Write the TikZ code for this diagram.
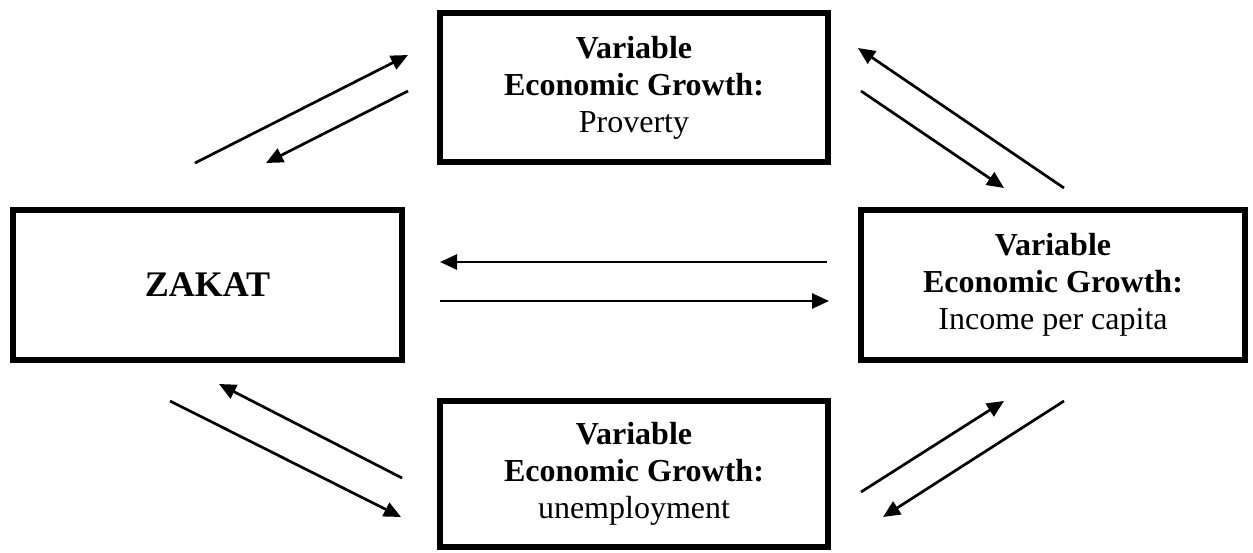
\documentclass[tikz,border=0pt]{standalone}
\usepackage{fontspec}
\setmainfont{Liberation Serif}
\usetikzlibrary{arrows.meta}
\begin{document}
\begin{tikzpicture}[x=0.5pt,y=-0.5pt,
  box/.style={draw, line width=3pt, rectangle, inner sep=0pt, align=center,
    font=\fontsize{16}{18.5}\selectfont},
  link/.style={line width=1.35pt, -{Triangle[length=8.5pt,width=7.5pt]}}]
\useasboundingbox (0,0) rectangle (1253,552);
\fill[white] (0,0) rectangle (1253,552);
% boxes
\node[box, minimum width=194pt, minimum height=74.5pt] (top) at (634,87.5)
  {\textbf{Variable}\\\textbf{Economic Growth:}\\Proverty};
\node[box, minimum width=194.5pt, minimum height=75pt,
  font=\fontsize{18}{20}\selectfont\bfseries] (zakat) at (207.5,285) {ZAKAT};
\node[box, minimum width=192pt, minimum height=75pt] (right) at (1053,285)
  {\textbf{Variable}\\\textbf{Economic Growth:}\\Income per capita};
\node[box, minimum width=194pt, minimum height=73pt] (bottom) at (634,474)
  {\textbf{Variable}\\\textbf{Economic Growth:}\\unemployment};
% arrow end points
\coordinate (a1s) at (195,163); \coordinate (a1e) at (408,55);
\coordinate (a2s) at (408,91);  \coordinate (a2e) at (266,163);
\coordinate (b1s) at (1064,188); \coordinate (b1e) at (858,48);
\coordinate (b2s) at (861,91);  \coordinate (b2e) at (1004,188);
\coordinate (m1s) at (827,262); \coordinate (m1e) at (440,262);
\coordinate (m2s) at (440,301); \coordinate (m2e) at (829,301);
\coordinate (c1s) at (170,401); \coordinate (c1e) at (401,517);
\coordinate (c2s) at (402,478); \coordinate (c2e) at (219,384);
\coordinate (d1s) at (861,492); \coordinate (d1e) at (1004,401);
\coordinate (d2s) at (1064,401); \coordinate (d2e) at (883,517);
% arrows
\draw[link] (a1s) -- (a1e);
\draw[link] (a2s) -- (a2e);
\draw[link] (b1s) -- (b1e);
\draw[link] (b2s) -- (b2e);
\draw[link] (m1s) -- (m1e);
\draw[link] (m2s) -- (m2e);
\draw[link] (c1s) -- (c1e);
\draw[link] (c2s) -- (c2e);
\draw[link] (d1s) -- (d1e);
\draw[link] (d2s) -- (d2e);
\end{tikzpicture}
\end{document}
